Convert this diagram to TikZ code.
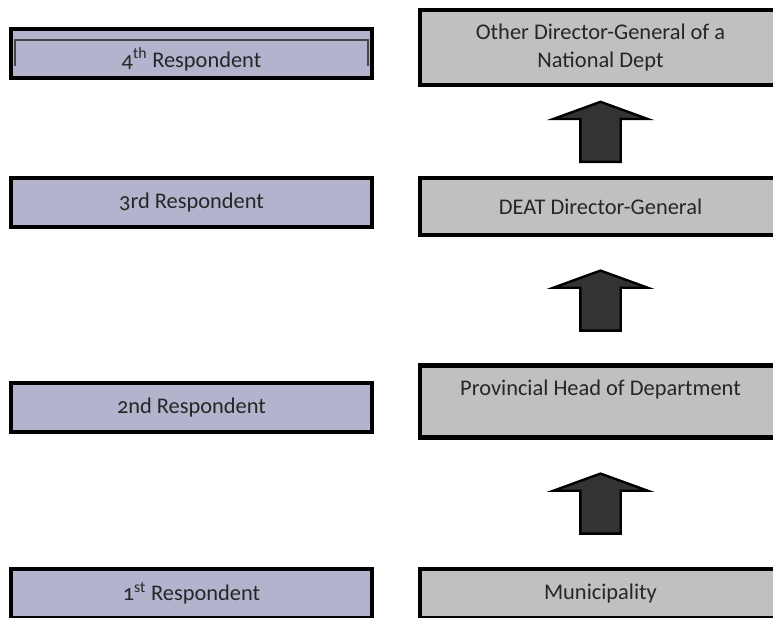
\documentclass[tikz,border=0pt]{standalone}
\usepackage{fontspec}
\setmainfont[Numbers=OldStyle]{Carlito}
\usepackage{tikz}
\usetikzlibrary{shapes.arrows,positioning,calc}
\definecolor{respfill}{HTML}{B3B3CD}
\definecolor{officefill}{HTML}{C0C0C0}
\definecolor{arrowfill}{HTML}{333333}
\definecolor{bracketgrey}{HTML}{45454F}
\tikzset{
  respbox/.style={rectangle,draw=black,line width=3.3pt,fill=respfill,
    minimum width=361*0.75pt,minimum height=49*0.75pt,inner sep=0pt,
    font=\fontsize{16.8}{21}\selectfont,text=black!85,align=center},
  officebox/.style={rectangle,draw=black,line width=3.3pt,fill=officefill,
    minimum width=361*0.75pt,minimum height=#1*0.75pt,inner sep=0pt,
    font=\fontsize{16.8}{21}\selectfont,text=black!85,align=center},
  officebox/.default={49},
  uparrow/.style={single arrow,rotate=90,draw=black,line width=1.8pt,fill=arrowfill,
    minimum height=60*0.75pt,inner xsep=0pt,inner ysep=19*0.75pt,
    single arrow head extend=27*0.75pt,single arrow tip angle=140},
}
\begin{document}
\begin{tikzpicture}[x=0.75pt,y=-0.75pt]
  \clip (0,0) rectangle (773,617);
  \fill[white] (0,0) rectangle (773,617);
  % respondents
  \node[respbox] (r4) at (191.5,53.5) {};
  \node[font=\fontsize{16.8}{21}\selectfont,text=black!85,inner sep=0pt] (r4text) at ([yshift=-6*0.75pt]r4.center) {4\textsuperscript{th} Respondent};
  \draw[bracketgrey,line width=1.2pt] ([xshift=6*0.75pt,yshift=-13*0.75pt]r4.west) |- ([yshift=-13*0.75pt]r4.north) -| ([xshift=-6*0.75pt,yshift=-13*0.75pt]r4.east);
  \node[respbox] (r3) at (191.5,202.5) {3rd Respondent};
  \node[respbox] (r2) at (191.5,407.5) {2nd Respondent};
  \node[respbox] (r1) at (191.5,593.5) {1\textsuperscript{st} Respondent};
  % offices
  \node[officebox=75] (odg) at (600.5,47.5) {Other Director-General of a\\National Dept};
  \node[officebox=57] (deat) at (600.5,206.5) {DEAT Director-General};
  \node[officebox=72] (prov) at (600.5,401.5) {Provincial Head of Department\\\mbox{}};
  \node[officebox] (mun) at (600.5,593.5) {Municipality};
  % arrows
  \node[uparrow] (a1) at ($(deat.north)!0.5!(odg.south)+(0,4)$) {};
  \node[uparrow] (a2) at ($(prov.north)!0.5!(deat.south)+(0,4)$) {};
  \node[uparrow] (a3) at ($(mun.north)!0.5!(prov.south)+(0,4)$) {};
\end{tikzpicture}
\end{document}
